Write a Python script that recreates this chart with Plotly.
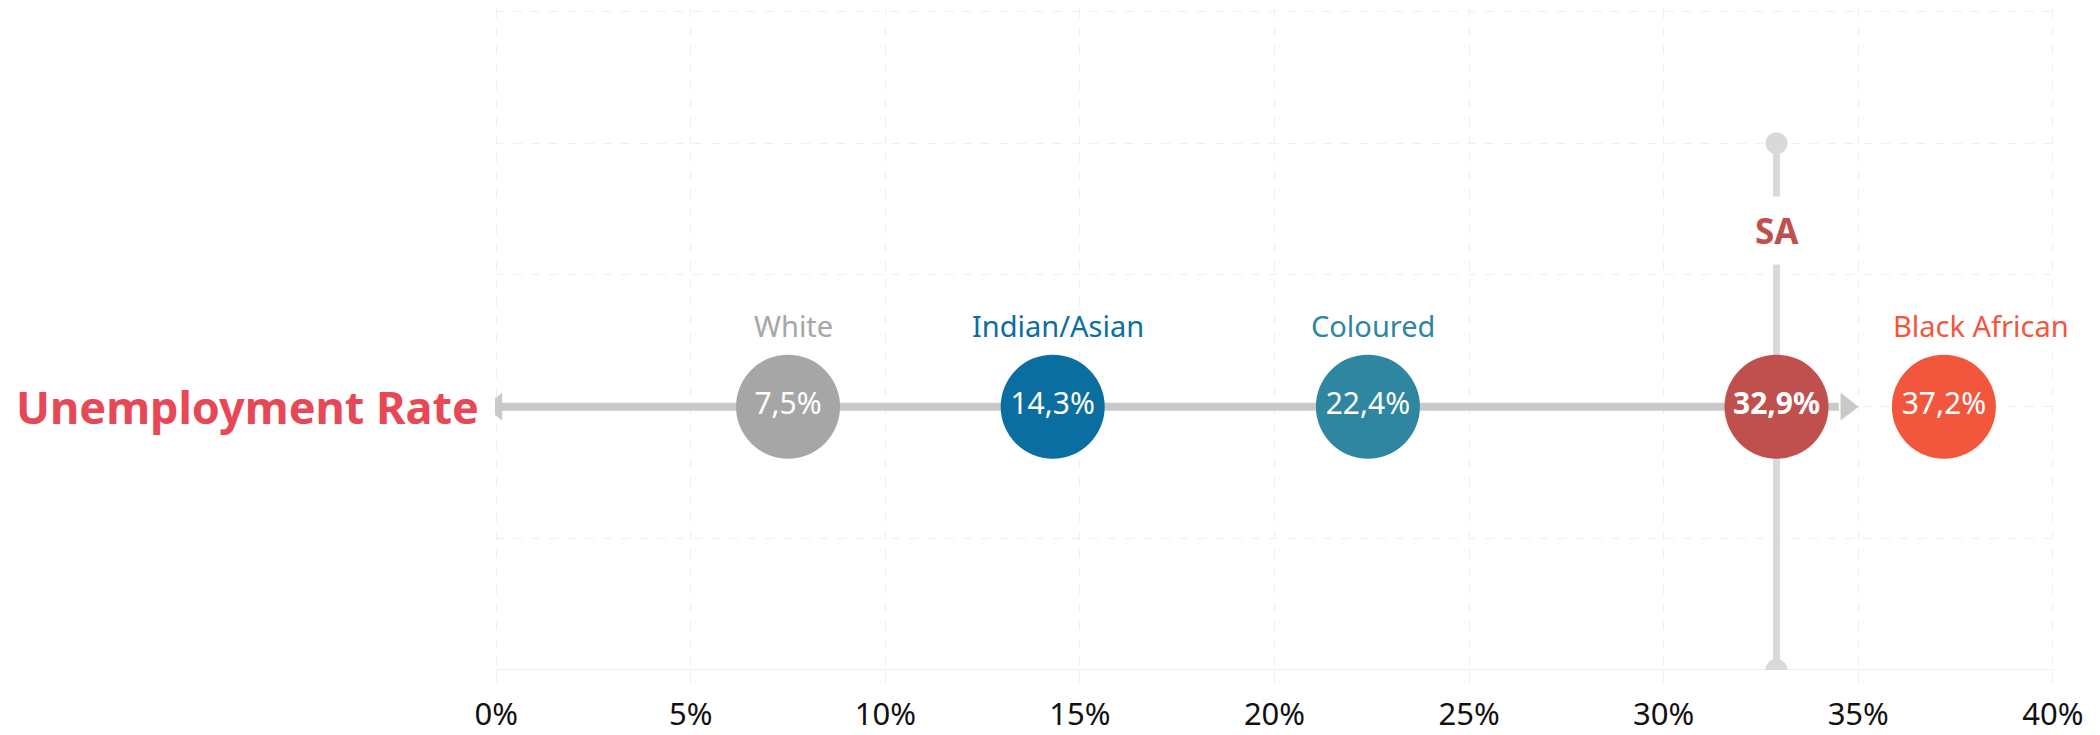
import plotly.graph_objects as go

# data
groups = ["White", "Indian/Asian", "Coloured", "SA", "Black African"]
rates = [7.5, 14.3, 22.4, 32.9, 37.2]
rate_labels = ["7,5%", "14,3%", "22,4%", "32,9%", "37,2%"]
colors = ["#a6a6a6", "#0b6ea1", "#2e86a0", "#c0504d", "#f2573d"]
x_ticks = [0, 5, 10, 15, 20, 25, 30, 35, 40]
x_tick_labels = ["0%", "5%", "10%", "15%", "20%", "25%", "30%", "35%", "40%"]

FONT = "Noto Sans"
ROW_Y = 2
LABEL_Y = 2.62
SA_LABEL_Y = 3.34
ARROW_END = 34.7
SA_RATE = rates[groups.index("SA")]
GRID = "#efefef"

fig = go.Figure()

# horizontal axis-arrow behind the bubbles
fig.add_trace(go.Scatter(
    x=[0, ARROW_END - 0.2], y=[ROW_Y, ROW_Y], mode="lines",
    line=dict(color="#c9c9c9", width=8), hoverinfo="skip", showlegend=False,
))
fig.add_trace(go.Scatter(
    x=[0, ARROW_END], y=[ROW_Y, ROW_Y], mode="markers",
    marker=dict(symbol=["triangle-left", "triangle-right"], size=24, color="#c9c9c9"),
    hoverinfo="skip", showlegend=False,
))

# SA reference line
fig.add_trace(go.Scatter(
    x=[SA_RATE, SA_RATE], y=[0, 4], mode="lines+markers",
    line=dict(color="#d9d9d9", width=7),
    marker=dict(symbol="circle", size=22, color="#d9d9d9"),
    hoverinfo="skip", showlegend=False,
))

# bubbles
fig.add_trace(go.Scatter(
    x=rates, y=[ROW_Y] * len(rates), mode="markers+text",
    marker=dict(size=104, color=colors, line=dict(width=0), opacity=1),
    text=[f"<b>{t}</b>" if g == "SA" else t for g, t in zip(groups, rate_labels)],
    textposition="middle center",
    textfont=dict(family=FONT, size=30, color="white"),
    cliponaxis=False, hoverinfo="skip", showlegend=False,
))

annotations = []
for g, r, c in zip(groups, rates, colors):
    if g == "SA":
        annotations.append(dict(
            x=r, y=SA_LABEL_Y, xref="x", yref="y", text="<b>SA</b>", showarrow=False,
            font=dict(family=FONT, size=35, color=c), bgcolor="white", borderpad=10,
        ))
    else:
        annotations.append(dict(
            x=r, y=LABEL_Y, xref="x", yref="y", text=g, showarrow=False,
            xshift=37 if g == "Black African" else 5,
            font=dict(family=FONT, size=29, color=c),
        ))

annotations.append(dict(
    x=0, y=ROW_Y, xref="paper", yref="y", xanchor="right", text="<b>Unemployment Rate</b>",
    showarrow=False, xshift=-14, font=dict(family=FONT, size=45, color="#e84855"),
))

# the page body adds an 8px offset, margins compensate for it
fig.update_layout(
    width=2100, height=735,
    margin=dict(l=487, r=54, t=1, b=73),
    paper_bgcolor="white", plot_bgcolor="white",
    annotations=annotations,
    font=dict(family=FONT),
)
fig.update_xaxes(
    range=[-0.03, 40.03], tickvals=x_ticks, ticktext=x_tick_labels,
    tickfont=dict(family=FONT, size=31, color="#111"),
    showgrid=True, gridcolor=GRID, griddash="dash", gridwidth=1,
    showline=False, ticks="outside", ticklen=12, tickcolor=GRID,
    ticklabelstandoff=5,
    zeroline=False, fixedrange=True,
)
fig.update_yaxes(
    range=[0, 5.02], tickvals=[0, 1, 2, 3, 4, 5], showticklabels=False,
    showgrid=True, gridcolor=GRID, griddash="dash", gridwidth=1,
    zeroline=False, fixedrange=True,
)
# solid baseline
fig.add_hline(y=0, line=dict(color=GRID, width=2), layer="below")

fig.write_html("out.html")
